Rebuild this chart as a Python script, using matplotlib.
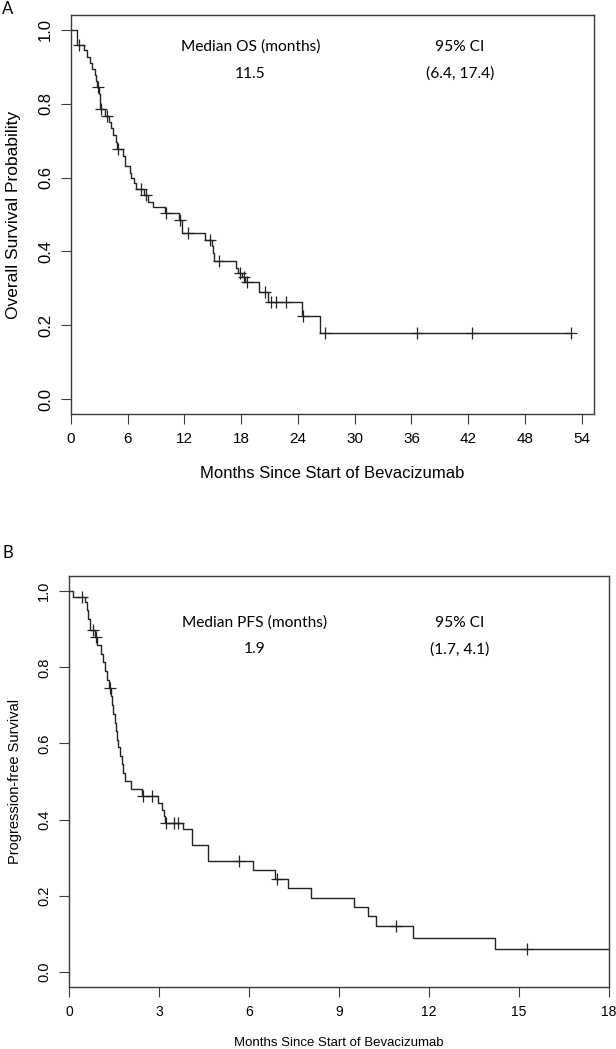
import matplotlib.pyplot as plt
import numpy as np

# Panel A - overall survival: drop times (months) and survival after each drop
os_times = [0, 0.59, 1.37, 1.72, 1.97, 2.25, 2.53, 2.62, 2.75, 3.00, 3.03, 3.06,
            3.59, 4.00, 4.20, 4.45, 4.73, 4.90, 5.50, 5.67, 6.20, 6.35, 6.62, 6.83,
            7.68, 8.14, 8.67, 9.90, 11.40, 11.75, 14.20, 14.95, 15.05, 15.15,
            17.40, 17.70, 18.10, 18.45, 19.90, 20.80, 24.40, 26.30]
os_surv = [1.0, 0.960, 0.944, 0.925, 0.910, 0.895, 0.877, 0.862, 0.844, 0.825, 0.805, 0.785,
           0.766, 0.750, 0.733, 0.714, 0.696, 0.677, 0.657, 0.630, 0.612, 0.598, 0.584, 0.568,
           0.554, 0.535, 0.519, 0.505, 0.485, 0.451, 0.432, 0.414, 0.395, 0.373,
           0.354, 0.343, 0.330, 0.316, 0.289, 0.262, 0.2255, 0.180]
os_censor = [0.84, 2.85, 3.20, 3.84, 5.00, 7.45, 7.95, 10.0, 11.56, 12.4, 14.7, 15.6,
             17.9, 18.3, 18.6, 20.5, 21.2, 21.65, 22.7, 24.5, 26.85, 36.6, 42.4, 52.9]
os_last = 52.9

# Panel B - progression-free survival
pfs_times = [0, 0.12, 0.52, 0.59, 0.63, 0.70, 0.85, 0.92, 1.08, 1.12, 1.20, 1.27, 1.33,
             1.40, 1.43, 1.47, 1.53, 1.57, 1.61, 1.64, 1.70, 1.76, 1.79, 1.87, 2.06, 2.42,
             2.98, 3.09, 3.17, 3.20, 3.79, 4.09, 4.62, 6.13, 6.85, 7.29, 8.06, 9.50,
             9.98, 10.22, 11.46, 14.20]
pfs_surv = [1.0, 0.985, 0.972, 0.950, 0.928, 0.897, 0.880, 0.859, 0.836, 0.814, 0.790, 0.767, 0.746,
            0.725, 0.700, 0.677, 0.655, 0.633, 0.610, 0.590, 0.567, 0.545, 0.522, 0.501, 0.481, 0.462,
            0.444, 0.426, 0.409, 0.391, 0.374, 0.332, 0.292, 0.267, 0.243, 0.220, 0.195, 0.171,
            0.147, 0.121, 0.090, 0.061]
pfs_censor = [0.44, 0.81, 0.89, 1.37, 2.48, 2.78, 3.23, 3.50, 3.64, 5.65, 6.93, 10.89, 15.28]
pfs_last = 18.0

tick_font = 'Liberation Sans'
note_font = 'Lato'
curve_col = '#222222'
frame_col = '#3a3a3a'


def km_plot(ax, times, surv, last, censor):
    t = np.append(times, last)
    s = np.append(surv, surv[-1])
    ax.step(t, s, where='post', color=curve_col, lw=1.0)
    idx = np.searchsorted(times, censor, side='right') - 1
    cy = np.asarray(surv)[idx]
    ax.plot(censor, cy, ls='none', marker='+', ms=8, mew=0.9, color=curve_col)


def style_axes(ax, xticks, xmax, xsize, ysize):
    ax.set_xlim(0, xmax)
    ax.set_ylim(-0.04, 1.04)
    ax.set_xticks(xticks)
    ax.set_xticklabels([str(v) for v in xticks], family=tick_font, fontsize=xsize)
    yt = [0.0, 0.2, 0.4, 0.6, 0.8, 1.0]
    ax.set_yticks(yt)
    ax.set_yticklabels(['%.1f' % v for v in yt], family=tick_font, fontsize=ysize,
                       rotation=90, va='center')
    ax.tick_params(direction='out', length=7, width=0.8, color=frame_col, pad=6)
    for sp in ax.spines.values():
        sp.set_color(frame_col)
        sp.set_linewidth(1.0)


fig = plt.figure(figsize=(6.16, 10.49), dpi=100)

# ---- panel A ----
axA = fig.add_axes([71 / 616, 1 - 414 / 1049, (594 - 71) / 616, (414 - 15) / 1049])
km_plot(axA, os_times, os_surv, os_last, os_censor)
style_axes(axA, list(range(0, 55, 6)), 55.3, 11, 12)
axA.set_xlabel('Months Since Start of Bevacizumab', family=tick_font, fontsize=12, labelpad=14)
axA.set_ylabel('Overall Survival Probability', family=tick_font, fontsize=12.5, labelpad=12)
axA.text(0.343, 0.92, 'Median OS (months)', transform=axA.transAxes, ha='center',
         va='center', family=note_font, fontsize=11.2)
axA.text(0.343, 0.853, '11.5', transform=axA.transAxes, ha='center', va='center',
         family=note_font, fontsize=11.2)
axA.text(0.744, 0.92, '95% CI', transform=axA.transAxes, ha='center', va='center',
         family=note_font, fontsize=11.2)
axA.text(0.744, 0.853, '(6.4, 17.4)', transform=axA.transAxes, ha='center', va='center',
         family=note_font, fontsize=11.2)
fig.text(8 / 616, 1 - 9 / 1049, 'A', ha='center', va='center', family=note_font, fontsize=12)

# ---- panel B ----
axB = fig.add_axes([69 / 616, 1 - 987 / 1049, (609 - 69) / 616, (987 - 576) / 1049])
km_plot(axB, pfs_times, pfs_surv, pfs_last, pfs_censor)
style_axes(axB, list(range(0, 19, 3)), 18, 10, 10.5)
axB.set_xlabel('Months Since Start of Bevacizumab', family=tick_font, fontsize=9.5, labelpad=13)
axB.set_ylabel('Progression-free Survival', family=tick_font, fontsize=10.5, labelpad=11)
axB.text(0.344, 0.886, 'Median PFS (months)', transform=axB.transAxes, ha='center',
         va='center', family=note_font, fontsize=11.2)
axB.text(0.344, 0.822, '1.9', transform=axB.transAxes, ha='center', va='center',
         family=note_font, fontsize=11.2)
axB.text(0.724, 0.886, '95% CI', transform=axB.transAxes, ha='center', va='center',
         family=note_font, fontsize=11.2)
axB.text(0.724, 0.822, '(1.7, 4.1)', transform=axB.transAxes, ha='center', va='center',
         family=note_font, fontsize=11.2)
fig.text(8 / 616, 1 - 553 / 1049, 'B', ha='center', va='center', family=note_font, fontsize=12)

fig.savefig('out.png', dpi=100)
